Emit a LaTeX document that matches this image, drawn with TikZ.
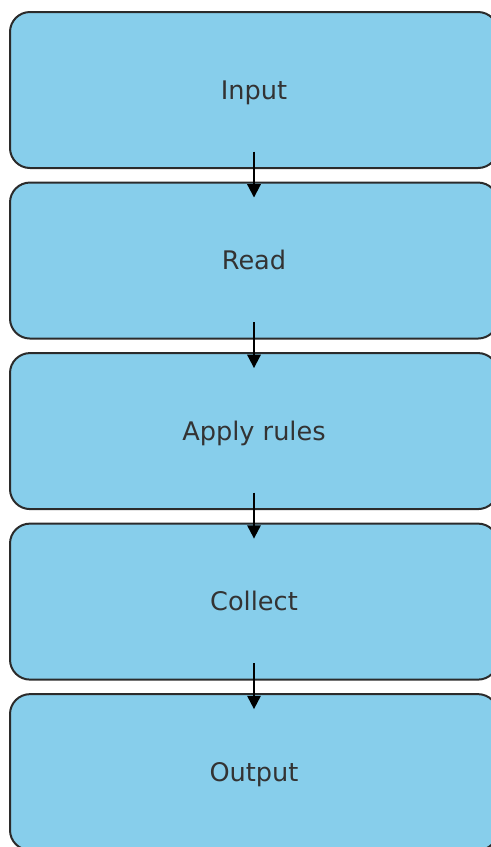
\documentclass[tikz,border=0pt]{standalone}
\usepackage{fontspec}
\setmainfont{DejaVu Sans}
\usepackage[HTML]{xcolor}
\usetikzlibrary{positioning, arrows.meta}

\definecolor{boxfill}{HTML}{87CEEB}
\definecolor{boxline}{HTML}{2B2B2B}
\definecolor{boxtext}{HTML}{333333}

\tikzset{
  stage/.style={draw=boxline, fill=boxfill, line width=1.5pt, rounded corners=15pt,
    minimum width=366pt, minimum height=117pt, inner sep=0pt,
    text height=14pt, text depth=0pt,
    text=boxtext, font=\fontsize{19.2}{23}\selectfont},
  flow/.style={-{Triangle[length=10pt, width=10pt]}, line width=1.5pt, black}
}

\begin{document}
\begin{tikzpicture}[x=0.75pt, y=-0.75pt]
\useasboundingbox (0,0) rectangle (490,847);

\node[stage] (input) at (254,90) {Input};
\node[stage, below=9.4pt of input] (read) {Read};
\node[stage, below=9.4pt of read] (rules) {Apply rules};
\node[stage, below=9.4pt of rules] (collect) {Collect};
\node[stage, below=9.4pt of collect] (output) {Output};

\draw[flow] ([yshift=13pt]input.south) -- ([yshift=-12pt]read.north);
\draw[flow] ([yshift=13pt]read.south) -- ([yshift=-12pt]rules.north);
\draw[flow] ([yshift=13pt]rules.south) -- ([yshift=-12pt]collect.north);
\draw[flow] ([yshift=13pt]collect.south) -- ([yshift=-12pt]output.north);
\end{tikzpicture}
\end{document}
